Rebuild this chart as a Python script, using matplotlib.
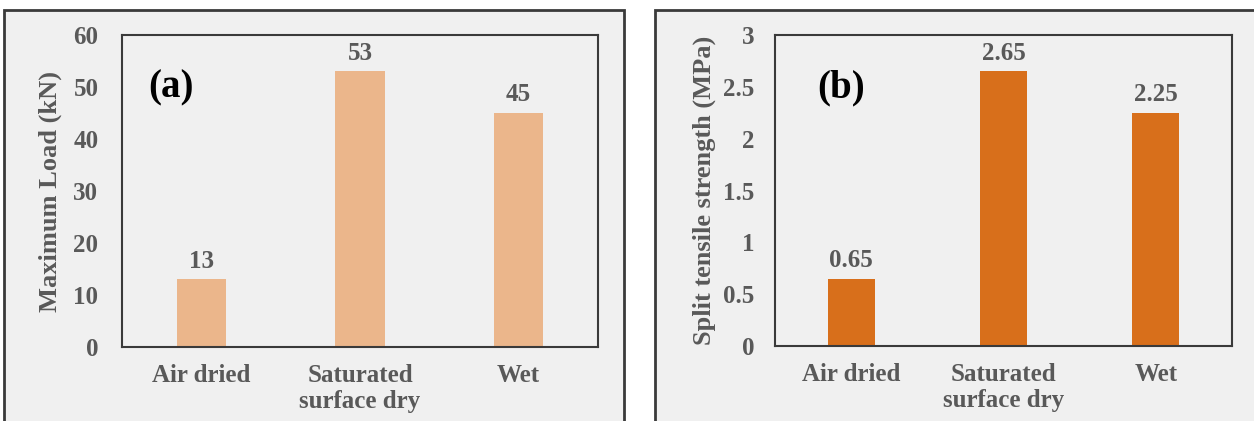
import numpy as np
import matplotlib.pyplot as plt
from matplotlib.patches import Rectangle

categories = ['Air dried', 'Saturated\nsurface dry', 'Wet']
max_load = [13, 53, 45]
split_strength = [0.65, 2.65, 2.25]
load_ticks = [0, 10, 20, 30, 40, 50, 60]
strength_ticks = [0, 0.5, 1, 1.5, 2, 2.5, 3]
strength_tick_labels = ['0', '0.5', '1', '1.5', '2', '2.5', '3']

plt.rcParams['font.family'] = ['Liberation Serif', 'DejaVu Serif']
plt.rcParams['font.weight'] = 'bold'

W, H = 1254, 421
fig = plt.figure(figsize=(W / 100, H / 100), dpi=100)
fig.patch.set_facecolor('white')

grey = '#595959'

# panel backgrounds
for x0, x1 in [(4, 624), (655, 1260)]:
    fig.patches.append(Rectangle((x0 / W, -0.05), (x1 - x0) / W, (H - 10) / H + 0.05,
                                 transform=fig.transFigure, facecolor='#f0f0f0',
                                 edgecolor='#3a3a3a', linewidth=2, zorder=-1))


def panel(rect, values, color, ticks, ticklabels, ylim, ylabel, letter, letter_x, fmt, ylab_x, ypad):
    ax = fig.add_axes(rect)
    ax.set_zorder(2)
    ax.set_facecolor('#f0f0f0')
    x = np.arange(len(categories))
    ax.bar(x, values, width=0.31, color=color, zorder=2)
    ax.set_xlim(-0.5, len(categories) - 0.5)
    ax.set_ylim(*ylim)
    ax.set_yticks(ticks)
    ax.set_yticklabels(ticklabels)
    ax.set_xticks(x)
    ax.set_xticklabels(categories, linespacing=1.2)
    ax.tick_params(axis='both', length=0, labelsize=18, labelcolor=grey)
    ax.tick_params(axis='y', pad=ypad)
    ax.tick_params(axis='x', pad=12)
    for s in ax.spines.values():
        s.set_color('#3a3a3a')
        s.set_linewidth(1.5)
    for xi, v in zip(x, values):
        ax.annotate(fmt.format(v), (xi, v), xytext=(0, 13), textcoords='offset points',
                    ha='center', va='center', fontsize=18, color=grey, fontweight='bold')
    ax.text(letter_x, 0.83, letter, transform=ax.transAxes, fontsize=28,
            fontweight='bold', color='black', va='center', ha='left')
    t = fig.text(ylab_x / W, (rect[1] + rect[3] / 2), ylabel, rotation=90, ha='center',
                 va='center', fontsize=19, color=grey, fontweight='bold')
    t.set_zorder(3)
    return ax


panel([122 / W, 1 - 347 / H, 476 / W, 312 / H], max_load, '#ebb68b', load_ticks,
      [str(t) for t in load_ticks], (0, 60), 'Maximum Load (kN)', '(a)', 0.055, '{:d}', 50, 17)
panel([775 / W, 1 - 346 / H, 457 / W, 311 / H], split_strength, '#d86f1b', strength_ticks,
      strength_tick_labels, (0, 3), 'Split tensile strength (MPa)', '(b)', 0.092, '{:.2f}', 704, 15)

fig.savefig('out.png', dpi=100)
